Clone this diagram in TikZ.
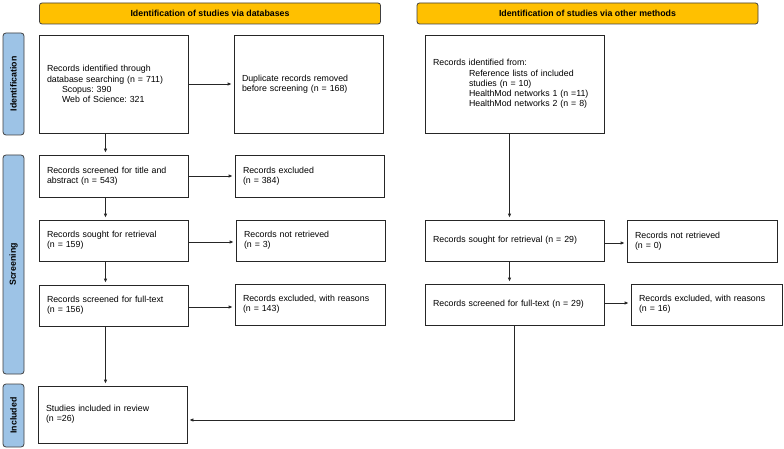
\documentclass[tikz,border=0pt]{standalone}
\usepackage{fontspec}
\setmainfont{Liberation Sans}
\usepackage{tikz}
\usetikzlibrary{positioning,arrows.meta,calc}
\frenchspacing

\begin{document}
\begin{tikzpicture}[x=1pt, y=-1pt, font=\fontsize{8.8}{10.2}\selectfont, >={Latex[length=4pt,width=3.6pt]},
  box/.style={draw=black!85, line width=0.8pt, align=left, inner xsep=8pt, inner ysep=2pt},
  hdr/.style={draw=black!75, line width=0.8pt, rounded corners=2.5pt, fill=hdrfill, minimum width=341pt, minimum height=21pt, font=\fontsize{8.8}{10.2}\selectfont\bfseries},
  side/.style={draw=black!75, line width=0.8pt, rounded corners=3pt, fill=sidefill, rotate=90, minimum height=21pt, inner sep=0pt, font=\fontsize{8.8}{10.2}\selectfont\bfseries},
  link/.style={->, draw=black!85, line width=0.8pt, shorten >=2pt}]
\definecolor{hdrfill}{HTML}{FFC000}
\definecolor{sidefill}{HTML}{9DC3E6}
\useasboundingbox (0,0) rectangle (784,449);
% phase headers and side bars
\node[hdr] (hdrdb) at (210,13.5) {Identification of studies via databases};
\node[hdr] (hdrot) at (587.5,13.5) {Identification of studies via other methods};
\node[side, minimum width=102pt] (sideid) at (13.5,84) {Identification};
\node[side, minimum width=219pt] (sidescr) at (13.5,264.5) {Screening};
\node[side, minimum width=63pt] (sideinc) at (13.5,415.5) {Included};
% databases column
\node[box, text width=133pt, minimum height=98pt] (iddb) at (113.5,84) {Records identified through\\database searching (n = 711)\\\hspace*{15pt}Scopus: 390\\\hspace*{15pt}Web of Science: 321};
\node[box, text width=133pt, minimum height=98pt] (dup) at (308.5,84) {Duplicate records removed\\before screening (n = 168)\\[10pt]};
\node[box, text width=133pt, minimum height=42pt] (scrtitle) at (113.5,176) {Records screened for title and\\abstract (n = 543)};
\node[box, text width=133pt, minimum height=42pt] (excl) at (309.5,176) {Records excluded\\(n = 384)};
\node[box, text width=133pt, minimum height=41pt] (soughtdb) at (113.5,240.5) {Records sought for retrieval\\(n = 159)};
\node[box, text width=133pt, minimum height=41pt] (notretdb) at (310.5,240.5) {Records not retrieved\\(n = 3)};
\node[box, text width=133pt, minimum height=41pt] (fulldb) at (113.5,305.5) {Records screened for full-text\\(n = 156)};
\node[box, text width=134pt, minimum height=41pt] (excldb) at (310,304.5) {Records excluded, with reasons\\(n = 143)};
\node[box, text width=133pt, minimum height=57pt] (incl) at (112.5,414.5) {Studies included in review\\(n =26)};
% other methods column
\node[box, text width=163pt, minimum height=98pt] (idot) at (514.5,84) {Records identified from:\\\hspace*{36pt}Reference lists of included\\\hspace*{36pt}studies (n = 10)\\\hspace*{36pt}HealthMod networks 1 (n =11)\\\hspace*{36pt}HealthMod networks 2 (n = 8)\\[10pt]};
\node[box, text width=163pt, minimum height=41pt] (soughtot) at (514.5,240.5) {Records sought for retrieval (n = 29)};
\node[box, text width=134pt, minimum height=42pt] (notretot) at (702,241) {Records not retrieved\\(n = 0)};
\node[box, text width=163pt, minimum height=41pt] (fullot) at (514.5,304.5) {Records screened for full-text (n = 29)};
\node[box, text width=135pt, minimum height=41pt] (exclot) at (706.5,304.5) {Records excluded, with reasons\\(n = 16)};
\coordinate (coldb) at (105.5,0);
\coordinate (colot) at (509.5,0);
% connectors
\draw[link] (iddb.east) -- (iddb.east -| dup.west);
\draw[link] (scrtitle.east) -- (scrtitle.east -| excl.west);
\draw[link] (soughtdb.east) ++(0,1.5) coordinate (s1) -- (s1 -| notretdb.west);
\draw[link] (fulldb.east) ++(0,1.5) coordinate (f1) -- (f1 -| excldb.west);
\draw[link] (iddb.south -| coldb) -- (scrtitle.north -| coldb);
\draw[link] (scrtitle.south -| coldb) -- (soughtdb.north -| coldb);
\draw[link] (soughtdb.south -| coldb) -- (fulldb.north -| coldb);
\draw[link] (fulldb.south -| coldb) -- (incl.north -| coldb);
\draw[link] (idot.south -| colot) -- (soughtot.north -| colot);
\draw[link] (soughtot.south -| colot) -- (fullot.north -| colot);
\draw[link] (soughtot.east) ++(0,2.5) coordinate (s2) -- (s2 -| notretot.west);
\draw[link] (fullot.east) ++(0,-1.5) coordinate (f2) -- (f2 -| exclot.west);
\draw[link] (fullot.south) |- ([yshift=-5.5pt]incl.east);
\end{tikzpicture}
\end{document}
